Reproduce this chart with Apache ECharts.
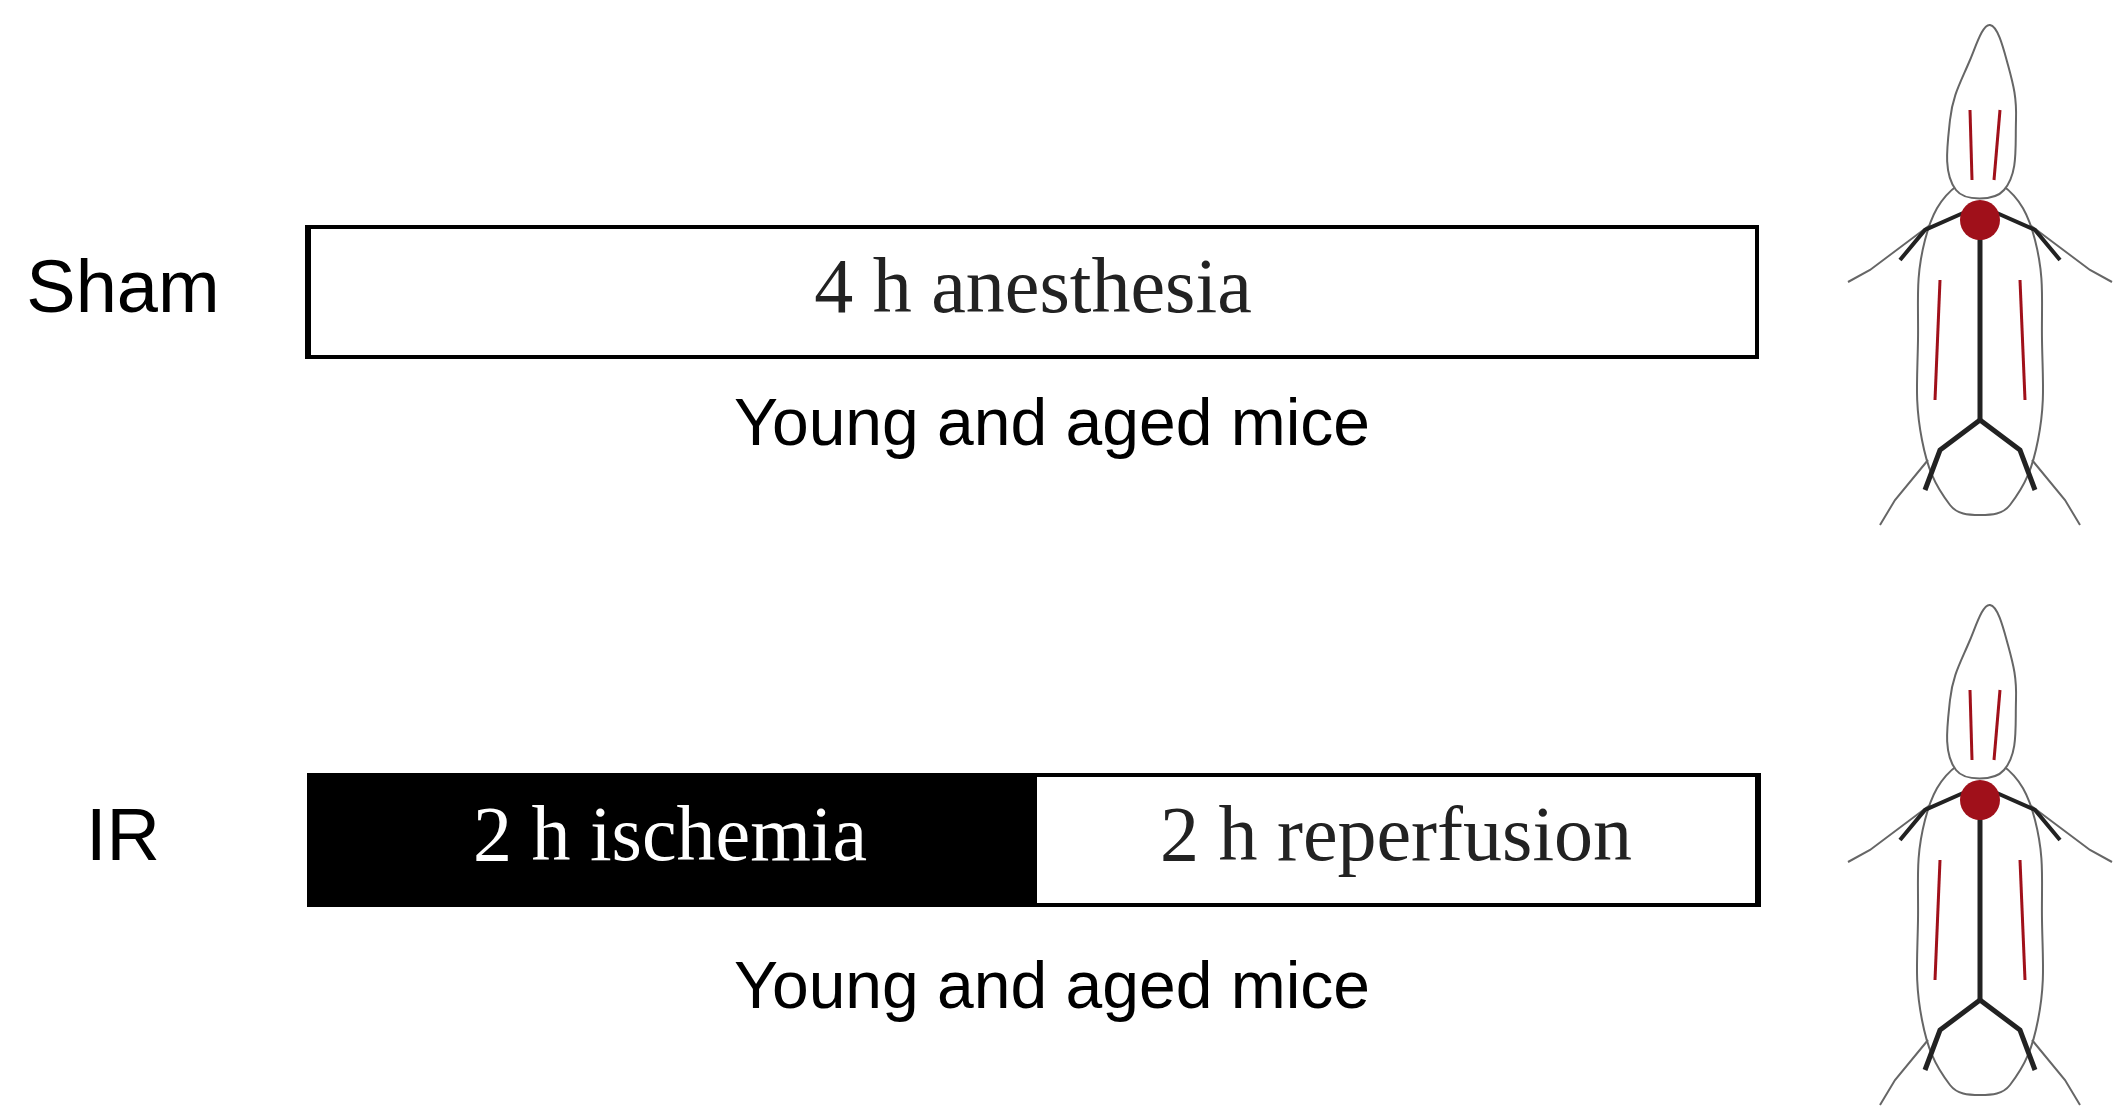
<!DOCTYPE html>
<html><head><meta charset="utf-8">
<script src="https://cdn.jsdelivr.net/npm/echarts@6/dist/echarts.min.js"></script>
<style>html,body{margin:0;background:#fff}#c{width:2125px;height:1119px}</style>
</head><body><div id="c"></div>
<script>
var groups = ['IR', 'Sham'];
var ischemia = [2, 0];
var reperfusion = [2, 0];
var anesthesia = [0, 4];
var barNames = { ischemia: '2 h ischemia', reperfusion: '2 h reperfusion', anesthesia: '4 h anesthesia' };
var subtitle = 'Young and aged mice';

var chart = echarts.init(document.getElementById('c'));

function line(pts, color, w) {
	return { type: 'polyline', shape: { points: pts }, style: { stroke: color, lineWidth: w, fill: null } };
}

function mouse(x, y) {
	var dark = '#222', red = '#a0101a', ol = '#666';
	return {
		type: 'group', x: x, y: y, silent: true,
		children: [
			{ type: 'polygon', shape: { smooth: 0.4, points: [[-22, 165], [-55, 220], [-62, 320], [-58, 420], [-30, 485], [0, 495], [30, 485], [58, 420], [62, 320], [55, 220], [22, 165]] }, style: { fill: '#fff', stroke: ol, lineWidth: 2 } },
			{ type: 'polygon', shape: { smooth: 0.4, points: [[-24, 170], [-30, 100], [-10, 40], [10, 5], [28, 45], [36, 100], [24, 170]] }, style: { fill: '#fff', stroke: ol, lineWidth: 2 } },
			line([[-50, 205], [-110, 250], [-132, 262]], ol, 2),
			line([[50, 205], [110, 250], [132, 262]], ol, 2),
			line([[-52, 440], [-85, 480], [-100, 505]], ol, 2),
			line([[52, 440], [85, 480], [100, 505]], ol, 2),
			line([[0, 200], [0, 400]], dark, 5),
			line([[0, 400], [-40, 430], [-55, 470]], dark, 5),
			line([[0, 400], [40, 430], [55, 470]], dark, 5),
			line([[-10, 190], [-55, 210], [-80, 240]], dark, 4),
			line([[10, 190], [55, 210], [80, 240]], dark, 4),
			line([[-8, 160], [-10, 90]], red, 3),
			line([[14, 160], [20, 90]], red, 3),
			line([[-40, 260], [-45, 380]], red, 3),
			line([[40, 260], [45, 380]], red, 3),
			{ type: 'circle', shape: { cx: 0, cy: 200, r: 20 }, style: { fill: red } }
		]
	};
}

var option = {
	backgroundColor: '#fff',
	animation: false,
	grid: { left: 307, right: 366, top: 18, bottom: 5 },
	xAxis: { type: 'value', min: 0, max: 4, show: false },
	yAxis: {
		type: 'category', data: groups,
		axisLine: { show: false }, axisTick: { show: false },
		axisLabel: { align: 'center', margin: 184, fontSize: 74, color: '#000', fontFamily: 'Liberation Sans' }
	},
	series: [
		{ type: 'bar', stack: 't', data: ischemia, barWidth: 134, itemStyle: { color: '#000', borderColor: '#000', borderWidth: 3 },
		  label: { show: true, formatter: function(p){ return p.value ? barNames.ischemia : ''; }, color: '#fff', fontSize: 78, fontFamily: 'Liberation Serif' } },
		{ type: 'bar', stack: 't', data: reperfusion, itemStyle: { color: '#fff', borderColor: '#000', borderWidth: 4 },
		  label: { show: true, formatter: function(p){ return p.value ? barNames.reperfusion : ''; }, color: '#222', fontSize: 78, fontFamily: 'Liberation Serif' } },
		{ type: 'bar', stack: 't', data: anesthesia, itemStyle: { color: '#fff', borderColor: '#000', borderWidth: 4 },
		  label: { show: true, formatter: function(p){ return p.value ? barNames.anesthesia : ''; }, color: '#222', fontSize: 78, fontFamily: 'Liberation Serif' } }
	],
	graphic: [
		{ type: 'text', x: 1052, y: 427, style: { text: subtitle, fontSize: 66, fontFamily: 'Liberation Sans', fill: '#000', align: 'center', verticalAlign: 'middle' } },
		{ type: 'text', x: 1052, y: 990, style: { text: subtitle, fontSize: 66, fontFamily: 'Liberation Sans', fill: '#000', align: 'center', verticalAlign: 'middle' } },
		mouse(1980, 20),
		mouse(1980, 600)
	]
};
chart.setOption(option);
</script></body></html>
